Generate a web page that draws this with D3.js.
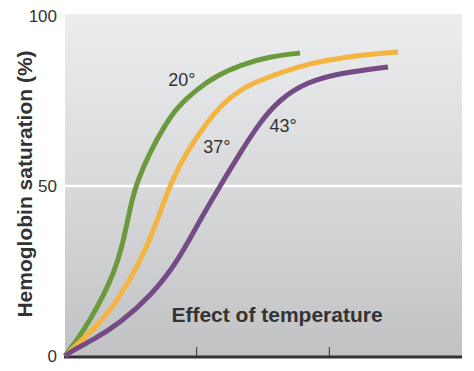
<!DOCTYPE html>
<meta charset="utf-8">
<style>
body{margin:0;background:#fff;}
text{font-family:"Liberation Sans",Arial,sans-serif;fill:#333;}
.curve{fill:none;stroke-width:5px;stroke-linecap:butt;}
</style>
<body>
<script src="https://cdn.jsdelivr.net/npm/d3@7"></script>
<script>

// saturation curves, x in arbitrary pO2 units, y in %
var temps=['20°','37°','43°'];
var curve20=[[0.008,0],[0.023,0.9],[0.098,4.7],[0.196,10.6],[0.294,17.4],[0.384,25.3],[0.437,32.1],
	[0.475,39.1],[0.513,45.9],[0.55,51.2],[0.656,60.6],[0.754,67.4],[0.852,73.2],[1.002,78.5],
	[1.153,82.5],[1.327,85.6],[1.553,88.1],[1.779,89.1]];
var curve37=[[0.008,0],[0.068,2.4],[0.219,7.6],[0.369,14.4],[0.497,22.4],[0.626,32.1],[0.724,42.1],
	[0.814,51.8],[0.935,60.6],[1.063,67.9],[1.198,74.4],[1.327,78.2],[1.455,80.9],[1.779,85.3],
	[1.952,86.8],[2.231,88.5],[2.518,89.4]];
var curve43=[[0.008,0],[0.045,1.2],[0.219,4.7],[0.422,9.7],[0.648,17.4],[0.852,27.4],[1.025,40],
	[1.176,50],[1.327,59.7],[1.477,68.8],[1.628,75.6],[1.832,80.6],[2.08,83.2],[2.442,85]];
var labelPos=[[0.889,79.5],[1.153,59.8],[1.651,65.8]];
var yTicks=[0,50,100];
var xTicks=[1,2];

var colors=['#6b9a3c','#f4b442','#744b84'];
var curves=[curve20,curve37,curve43];

var W=474,H=371;
var svg=d3.select("body").append("svg").attr("width",W).attr("height",H);

var x=d3.scaleLinear().domain([0,3]).range([64,462]);
var y=d3.scaleLinear().domain([0,100]).range([356,16]);

var grad=svg.append("defs").append("linearGradient").attr("id","bg")
	.attr("x1",0).attr("x2",0).attr("y1",0).attr("y2",1);
grad.append("stop").attr("offset","0%").attr("stop-color","#ecedee");
grad.append("stop").attr("offset","50%").attr("stop-color","#d7d9da");
grad.append("stop").attr("offset","100%").attr("stop-color","#c0c2c3");

svg.append("rect").attr("x",x(0)+1).attr("y",y(100)-2)
	.attr("width",x(3)-x(0)-1).attr("height",y(0)-y(100)+2)
	.attr("fill","url(#bg)");

// white gridline at 50
svg.append("line").attr("x1",x(0)+1).attr("x2",x(3))
	.attr("y1",y(50)).attr("y2",y(50))
	.attr("stroke","#fff").attr("stroke-width",2.5);

// x ticks
svg.selectAll(".xt").data(xTicks).enter().append("line")
	.attr("x1",d=>x(d)).attr("x2",d=>x(d))
	.attr("y1",y(0)-9).attr("y2",y(0))
	.attr("stroke","#333").attr("stroke-width",1);

// axis line
svg.append("line").attr("x1",x(0)).attr("x2",x(3))
	.attr("y1",y(0)+1).attr("y2",y(0)+1)
	.attr("stroke","#333").attr("stroke-width",3);

// y tick labels
svg.selectAll(".yl").data(yTicks).enter().append("text")
	.attr("x",57).attr("y",d=>y(d)+6)
	.attr("text-anchor","end").style("font-size","17px")
	.text(d=>d);

var line=d3.line().x(d=>x(d[0])).y(d=>y(d[1])).curve(d3.curveBasis);

svg.selectAll(".curve").data(curves).enter().append("path")
	.attr("class","curve")
	.attr("d",line)
	.attr("stroke",(d,i)=>colors[i]);

svg.selectAll(".tl").data(temps).enter().append("text")
	.attr("x",(d,i)=>x(labelPos[i][0])).attr("y",(d,i)=>y(labelPos[i][1]))
	.attr("text-anchor","middle").style("font-size","18px")
	.text(d=>d);

svg.append("text").attr("x",277).attr("y",322)
	.attr("text-anchor","middle").style("font-size","21px").style("font-weight","bold")
	.text("Effect of temperature");

svg.append("text").attr("transform","translate(32,184) rotate(-90)")
	.attr("text-anchor","middle").style("font-size","21px").style("font-weight","bold")
	.text("Hemoglobin saturation (%)");

</script>
</body>
</html>
